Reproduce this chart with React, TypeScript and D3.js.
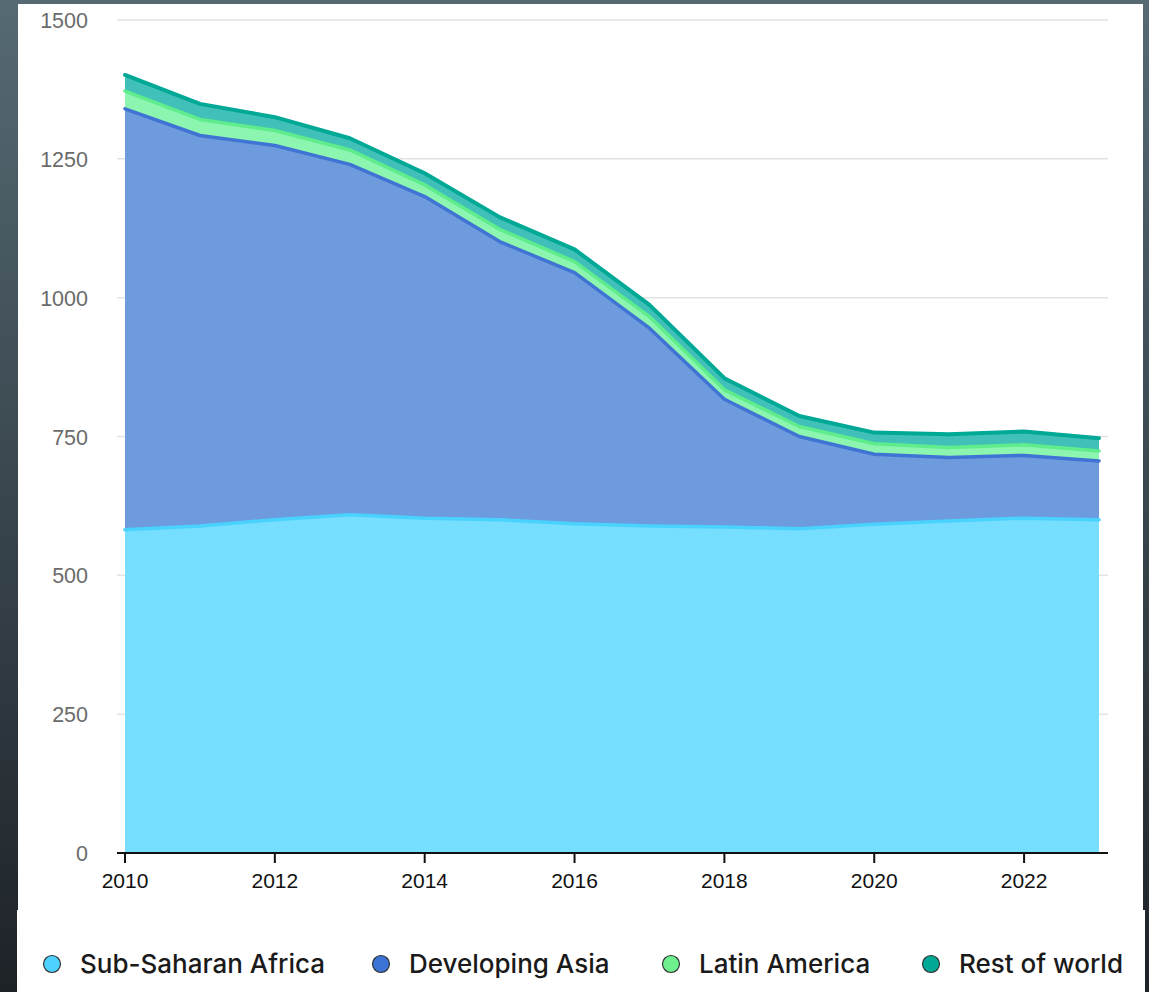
import React from "react";
import * as d3 from "d3";

const years = [2010, 2011, 2012, 2013, 2014, 2015, 2016, 2017, 2018, 2019, 2020, 2021, 2022, 2023];
const subSaharanAfrica = [582, 589, 600, 609, 603, 600, 593, 589, 587, 584, 592, 598, 603, 600];
const developingAsia = [758, 703, 674, 631, 579, 501, 452, 356, 230, 166, 126, 114, 113, 106];
const latinAmerica = [32, 29, 27, 26, 21, 22, 20, 21, 17, 18, 19, 18, 19, 18];
const restOfWorld = [29, 28, 24, 21, 21, 22, 22, 21, 21, 19, 20, 24, 24, 23];
const seriesNames = ["Sub-Saharan Africa", "Developing Asia", "Latin America", "Rest of world"];
const yTicks = [0, 250, 500, 750, 1000, 1250, 1500];
const xTicks = [2010, 2012, 2014, 2016, 2018, 2020, 2022];

const fills = ["#76dfff", "#6d9bdd", "#8cf5b0", "#40c0b8"];
const strokes = ["#4ad2ff", "#3f73d4", "#5fec8c", "#00a896"];
const legendColors = ["#4dd2ff", "#3b74d4", "#6ef08f", "#00a896"];

const W = 1149;
const H = 992;

export default function App() {
  const x = d3.scaleLinear().domain([2010, 2023]).range([125, 1099]);
  const y = d3.scaleLinear().domain([0, 1500]).range([853, 20]);

  const rows = years.map((yr, i) => ({
    year: yr,
    s0: subSaharanAfrica[i],
    s1: developingAsia[i],
    s2: latinAmerica[i],
    s3: restOfWorld[i],
  }));
  const stack = d3.stack<any>().keys(["s0", "s1", "s2", "s3"]);
  const stacked = stack(rows);

  const area = d3
    .area<any>()
    .x((d) => x(d.data.year))
    .y0((d) => y(d[0]))
    .y1((d) => y(d[1]));
  const line = d3
    .line<any>()
    .x((d) => x(d.data.year))
    .y((d) => y(d[1]));

  const legendX = [52, 381, 671, 931];

  return (
    <svg
      width={W}
      height={H}
      style={{ position: "absolute", left: 0, top: 0, display: "block" }}
      fontFamily="'Liberation Sans', Arial, sans-serif"
    >
      <defs>
        <linearGradient id="bg" x1="0" y1="0" x2="0" y2="1">
          <stop offset="0" stopColor="#566a74" />
          <stop offset="1" stopColor="#1d2227" />
        </linearGradient>
      </defs>
      <rect x={0} y={0} width={W} height={H} fill="url(#bg)" />
      <rect x={18} y={4} width={1125} height={907} fill="#ffffff" />
      <rect x={17} y={910} width={1128} height={82} fill="#ffffff" />

      {/* grid */}
      {yTicks.map((t) => (
        <g key={t}>
          {t > 0 && (
            <line x1={117} x2={1108} y1={y(t)} y2={y(t)} stroke="#e3e3e3" strokeWidth={1.5} />
          )}
          <text
            x={88}
            y={y(t) + 8}
            textAnchor="end"
            fontSize={21.5}
            fill="#6b6b6b"
          >
            {t}
          </text>
        </g>
      ))}

      {/* areas */}
      {stacked.map((s, i) => (
        <path key={"a" + i} d={area(s) || ""} fill={fills[i]} />
      ))}
      {stacked.map((s, i) => (
        <path
          key={"l" + i}
          d={line(s) || ""}
          fill="none"
          stroke={strokes[i]}
          strokeWidth={i === 3 ? 4 : 3.5}
          strokeLinejoin="round"
          strokeLinecap="round"
        />
      ))}

      {/* x axis */}
      <line x1={117} x2={1108} y1={y(0)} y2={y(0)} stroke="#111" strokeWidth={2} />
      {xTicks.map((t) => (
        <g key={t}>
          <line x1={x(t)} x2={x(t)} y1={y(0)} y2={y(0) + 10} stroke="#111" strokeWidth={2} />
          <text x={x(t)} y={888} textAnchor="middle" fontSize={21} fill="#111">
            {t}
          </text>
        </g>
      ))}

      {/* legend */}
      {seriesNames.map((n, i) => (
        <g key={n}>
          <circle cx={legendX[i]} cy={964} r={8.5} fill={legendColors[i]} stroke="#333" strokeWidth={1.2} />
          <text
            x={legendX[i] + 28}
            y={973}
            fontSize={26}
            fontFamily="Inter, Roboto, 'Noto Sans', sans-serif"
            fontWeight={500}
            fill="#1a1a1a"
          >
            {n}
          </text>
        </g>
      ))}
    </svg>
  );
}
